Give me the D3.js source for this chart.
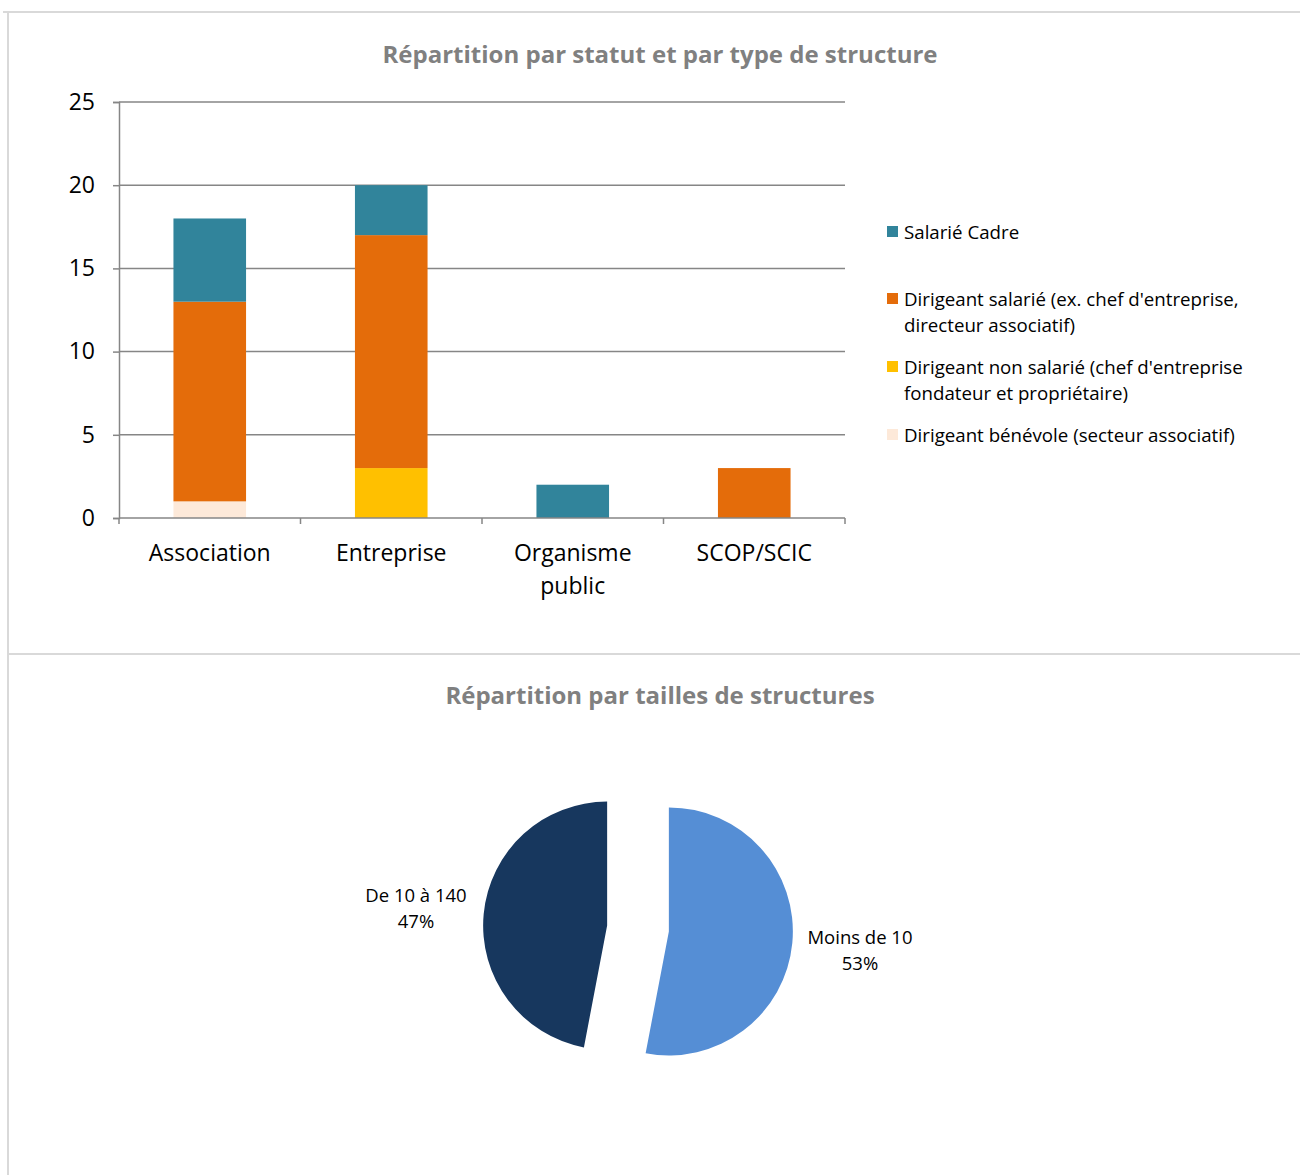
<!DOCTYPE html>
<html lang="fr">
<head>
<meta charset="UTF-8">
<script src="https://cdn.jsdelivr.net/npm/d3@7"></script>
<title>Répartition</title>
<style>
    body { margin: 0; background: white; }
    text { font-family: "Open Sans", sans-serif; }
</style>
</head>
<body>
<script>
    // ---------- data ----------
    const categories = ["Association", "Entreprise", "Organisme public", "SCOP/SCIC"];
    // stacked from the bottom up
    const seriesNames = [
        "Dirigeant bénévole (secteur associatif)",
        "Dirigeant non salarié (chef d'entreprise fondateur et propriétaire)",
        "Dirigeant salarié (ex. chef d'entreprise, directeur associatif)",
        "Salarié Cadre"
    ];
    const benevole = [1, 0, 0, 0];
    const nonSalarie = [0, 3, 0, 0];
    const dirigeantSalarie = [12, 14, 0, 3];
    const salarieCadre = [5, 3, 2, 0];
    const seriesColors = ["#fde9d9", "#ffc000", "#e46c0a", "#31849b"];
    const yTicks = [0, 5, 10, 15, 20, 25];

    // legend lines (wrapped like the original), top to bottom
    const legendLines = [
        ["Salarié Cadre"],
        ["Dirigeant salarié (ex. chef d'entreprise,", "directeur associatif)"],
        ["Dirigeant non salarié (chef d'entreprise", "fondateur et propriétaire)"],
        ["Dirigeant bénévole (secteur associatif)"]
    ];

    const pieLabels = ["Moins de 10", "De 10 à 140"];
    const pieValues = [53, 47];
    const pieColors = ["#558ed5", "#17375e"];

    const W = 1300, H = 1175;
    const svg = d3.select("body").append("svg")
        .attr("width", W)
        .attr("height", H);

    /*------------- frames -------------*/
    const frame = svg.append("g").attr("stroke", "#d9d9d9").attr("stroke-width", 2);
    frame.append("line").attr("x1", 3).attr("x2", W).attr("y1", 12).attr("y2", 12);
    frame.append("line").attr("x1", 8).attr("x2", 8).attr("y1", 12).attr("y2", H);
    frame.append("line").attr("x1", 8).attr("x2", W).attr("y1", 654).attr("y2", 654);

    /*------------- bar chart -------------*/
    svg.append("text")
        .attr("x", 660).attr("y", 53)
        .attr("text-anchor", "middle").attr("dominant-baseline", "central")
        .attr("font-size", 24).attr("font-weight", "bold").attr("fill", "#808080")
        .text("Répartition par statut et par type de structure");

    const plot = { left: 119, right: 845, top: 102, bottom: 518 };

    const x = d3.scaleBand()
        .domain(categories)
        .range([plot.left, plot.right])
        .paddingInner(0.6)
        .paddingOuter(0.3);

    const y = d3.scaleLinear()
        .domain([0, 25])
        .range([plot.bottom, plot.top]);

    // gridlines + y ticks
    const yAxis = d3.axisLeft(y).tickValues(yTicks).tickSize(6).tickPadding(18);
    const gy = svg.append("g").attr("transform", `translate(${plot.left},0)`).call(yAxis);
    gy.select(".domain").attr("stroke", "#868686").attr("stroke-width", 1.5);
    gy.selectAll(".tick line").attr("stroke", "#868686").attr("stroke-width", 1.5);
    gy.selectAll(".tick text").attr("font-size", 23).attr("fill", "#000")
        .attr("font-family", "Open Sans");

    svg.append("g").selectAll("line")
        .data(yTicks.filter(d => d > 0))
        .join("line")
        .attr("x1", plot.left).attr("x2", plot.right)
        .attr("y1", d => y(d)).attr("y2", d => y(d))
        .attr("stroke", "#868686").attr("stroke-width", 1.5);

    // stacked bars
    const rows = categories.map((c, i) => ({
        cat: c, s0: benevole[i], s1: nonSalarie[i], s2: dirigeantSalarie[i], s3: salarieCadre[i]
    }));
    const stack = d3.stack().keys(["s0", "s1", "s2", "s3"]);
    const layers = stack(rows);

    svg.append("g").selectAll("g")
        .data(layers)
        .join("g")
        .attr("fill", (d, i) => seriesColors[i])
        .selectAll("rect")
        .data(d => d.filter(p => p[1] > p[0]))
        .join("rect")
        .attr("x", d => x(d.data.cat))
        .attr("width", x.bandwidth())
        .attr("y", d => y(d[1]))
        .attr("height", d => y(d[0]) - y(d[1]));

    // x axis with ticks between categories
    const step = x.step();
    const gx = svg.append("g");
    gx.append("line")
        .attr("x1", plot.left).attr("x2", plot.right)
        .attr("y1", plot.bottom).attr("y2", plot.bottom)
        .attr("stroke", "#868686").attr("stroke-width", 1.5);
    gx.selectAll(".xt")
        .data(d3.range(categories.length + 1))
        .join("line")
        .attr("x1", i => plot.left + i * step).attr("x2", i => plot.left + i * step)
        .attr("y1", plot.bottom).attr("y2", plot.bottom + 6)
        .attr("stroke", "#868686").attr("stroke-width", 1.5);

    const xLabelLines = { "Organisme public": ["Organisme", "public"] };
    gx.selectAll(".xl")
        .data(categories)
        .join("text")
        .attr("x", d => x(d) + x.bandwidth() / 2)
        .attr("y", 553)
        .attr("text-anchor", "middle")
        .attr("font-size", 23)
        .attr("fill", "#000")
        .each(function(d) {
            const lines = xLabelLines[d] || [d];
            d3.select(this).selectAll("tspan")
                .data(lines)
                .join("tspan")
                .attr("x", x(d) + x.bandwidth() / 2)
                .attr("dy", (l, i) => i === 0 ? "0.35em" : 33)
                .text(l => l);
        });

    // legend
    const legendColors = seriesColors.slice().reverse();
    const legendY = [231, 298, 366, 434];
    const lg = svg.append("g");
    legendLines.forEach((lines, i) => {
        lg.append("rect")
            .attr("x", 887).attr("y", legendY[i] - 5)
            .attr("width", 11).attr("height", 11)
            .attr("fill", legendColors[i]);
        lines.forEach((l, j) => {
            lg.append("text")
                .attr("x", 904).attr("y", legendY[i] + j * 26)
                .attr("dominant-baseline", "central")
                .attr("font-size", 18.7)
                .attr("fill", "#000")
                .text(l);
        });
    });

    /*------------- pie chart -------------*/
    svg.append("text")
        .attr("x", 660).attr("y", 694)
        .attr("text-anchor", "middle").attr("dominant-baseline", "central")
        .attr("font-size", 24).attr("font-weight", "bold").attr("fill", "#808080")
        .text("Répartition par tailles de structures");

    const cx = 638, cy = 928.5, r = 124, explode = 31;
    const pie = d3.pie().sort(null).value(d => d);
    const arcs = pie(pieValues);
    const arc = d3.arc().innerRadius(0).outerRadius(r);
    const labelArc = d3.arc().innerRadius(0).outerRadius(192 * 2);

    const pg = svg.append("g").attr("transform", `translate(${cx},${cy})`);
    arcs.forEach((a, i) => {
        const mid = (a.startAngle + a.endAngle) / 2;
        const dx = Math.sin(mid) * explode, dy = -Math.cos(mid) * explode;
        const g = pg.append("g").attr("transform", `translate(${dx},${dy})`);
        g.append("path").attr("d", arc(a)).attr("fill", pieColors[i]);
        const [lx, ly] = labelArc.centroid(a);
        const t = g.append("text")
            .attr("text-anchor", "middle")
            .attr("font-size", 18.5)
            .attr("fill", "#000");
        t.append("tspan").attr("x", lx).attr("y", ly - 13).attr("dominant-baseline", "central")
            .text(pieLabels[i]);
        t.append("tspan").attr("x", lx).attr("y", ly + 13).attr("dominant-baseline", "central")
            .text(pieValues[i] + "%");
    });
</script>
</body>
</html>
